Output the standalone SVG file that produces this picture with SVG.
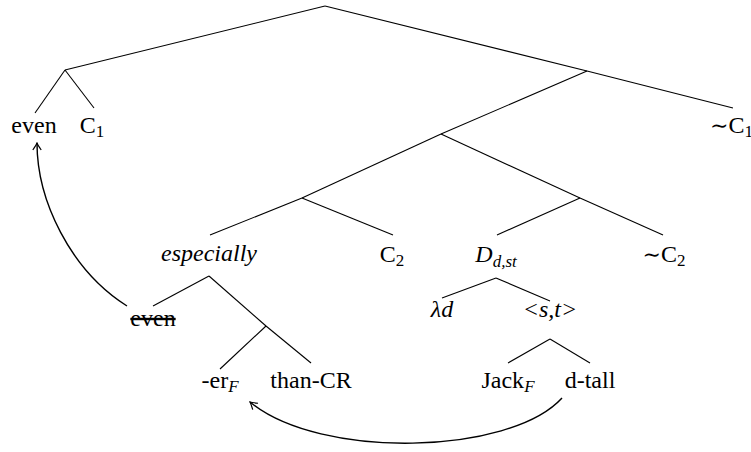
<svg xmlns="http://www.w3.org/2000/svg" width="751" height="452" viewBox="0 0 751 452">
<style>
text{font-family:"Liberation Serif","Times New Roman",serif;font-size:24px;fill:#000;text-anchor:middle}
.i{font-style:italic}
.s{font-size:17px}
.sim{font-family:"DejaVu Serif",serif;font-size:22px}
.e{stroke:#000;stroke-width:1.1;fill:none}
.a{stroke:#000;stroke-width:1.4;fill:none}
</style>
<defs>
<marker id="arr" viewBox="-8 -5 9 10" refX="0" refY="0" markerWidth="9" markerHeight="10" markerUnits="userSpaceOnUse" orient="auto">
<path d="M-7,-4.2 Q-2,-0.8 0,0 Q-2,0.8 -7,4.2" fill="none" stroke="#000" stroke-width="1.2"/>
</marker>
</defs>
<g id="connectors">
<path class="e" d="M325,6 L65,70"/>
<path class="e" d="M325,6 L587,71 L733,108"/>
<path class="e" d="M65,70 L35,113"/>
<path class="e" d="M65,70 L94,108"/>
<path class="e" d="M587,71 L441,134"/>
<path class="e" d="M441,134 L302,198"/>
<path class="e" d="M441,134 L580,198"/>
<path class="e" d="M302,198 L210,235"/>
<path class="e" d="M302,198 L393,235"/>
<path class="e" d="M580,198 L497,235"/>
<path class="e" d="M580,198 L663,235"/>
<path class="e" d="M209,276 L153,306"/>
<path class="e" d="M209,276 L266,326"/>
<path class="e" d="M266,326 L220,369"/>
<path class="e" d="M266,326 L311,363"/>
<path class="e" d="M496,278 L442,298"/>
<path class="e" d="M496,278 L550,301"/>
<path class="e" d="M550,339 L508,363"/>
<path class="e" d="M550,339 L590,363"/>
<path class="a" d="M127,306 C70,270 37,200 37,143" marker-end="url(#arr)"/>
<path class="a" d="M562,398 C510,455 320,460 250,402" marker-end="url(#arr)"/>
</g>
<g id="n-even"><text x="34" y="133">even</text></g>
<g id="n-c1"><text x="92" y="133">C<tspan class="s" dy="4">1</tspan></text></g>
<g id="n-notc1"><text x="710" y="133" style="text-anchor:start"><tspan class="sim">∼</tspan>C<tspan class="s" dy="4">1</tspan></text></g>
<g id="n-especially"><text class="i" x="209" y="261">especially</text></g>
<g id="n-c2"><text x="392" y="262">C<tspan class="s" dy="4">2</tspan></text></g>
<g id="n-d"><text x="496" y="262"><tspan class="i">D</tspan><tspan class="s i" dy="5">d,st</tspan></text></g>
<g id="n-notc2"><text x="664" y="262"><tspan class="sim">∼</tspan>C<tspan class="s" dy="4">2</tspan></text></g>
<g id="n-even2"><text x="153" y="326" text-decoration="line-through">even</text></g>
<g id="n-lambda"><text class="i" x="442" y="317">λd</text></g>
<g id="n-st"><text class="i" x="550" y="317">&lt;s,t&gt;</text></g>
<g id="n-er"><text x="220" y="388">-er<tspan class="s i" dy="4">F</tspan></text></g>
<g id="n-than"><text x="311" y="388">than-CR</text></g>
<g id="n-jack"><text x="508" y="388">Jack<tspan class="s i" dy="4">F</tspan></text></g>
<g id="n-dtall"><text x="590" y="388">d-tall</text></g>
</svg>
